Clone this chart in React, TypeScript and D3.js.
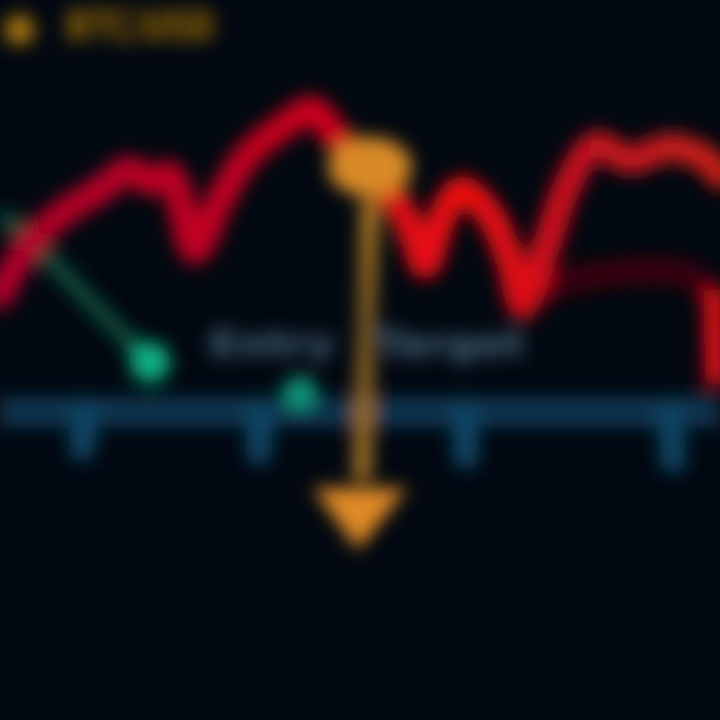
import React from "react";
import * as d3 from "d3";

// Data (x in time units 0..72, y in price units 0..72)
const redT = [0, 2.5, 6, 10, 13, 15, 17, 19.5, 22, 24.8, 28.5, 31.2, 33.5, 36.7, 39.5, 41.3, 42.5, 44.5, 46.2, 49, 51, 52.3, 54.5, 57, 59.6, 63, 67, 70.7, 72];
const redP = [42.5, 47, 50.5, 53, 55, 53.8, 54.5, 47, 52, 56.5, 59.5, 61, 58.5, 55, 52, 48.5, 45.5, 51, 53, 50.5, 46, 41.5, 47, 54, 57.5, 56, 57.3, 56, 54.5];
const darkT = [54.5, 59.6, 68.8, 71];
const darkP = [43, 44.5, 44.5, 43];
const tailT = [71.4, 71.6];
const tailP = [43, 33.5];
const greenT = [0, 2, 15];
const greenP = [50.5, 49, 35.8];
const dotT = [15, 30];
const dotP = [35.8, 32.7];
const tickT = [8.5, 26, 46.5, 67];
const labels = ["Entry", "Target"];
const labelT = [27.2, 45];
const labelW = [125, 150];
const titleText = ["●", "BTC/USD"];

const W = 720, H = 720;
const x = d3.scaleLinear().domain([0, 72]).range([0, W]);
const y = d3.scaleLinear().domain([0, 72]).range([H, 0]);

export default function App() {
  const mk = (T: number[], P: number[], curve: d3.CurveFactory = d3.curveCatmullRom) =>
    d3.line<[number, number]>().x(d => x(d[0])).y(d => y(d[1])).curve(curve)(T.map((t, i) => [t, P[i]] as [number, number]))!;
  const baseY = y(30.8);
  return (
    <svg width={W} height={H} style={{ position: "fixed", left: 0, top: 0, background: "#020811" }}>
      <defs>
        <filter id="blur" filterUnits="userSpaceOnUse" x={-100} y={-100} width={920} height={920}>
          <feGaussianBlur stdDeviation={9} />
        </filter>
        <linearGradient id="redg" gradientUnits="userSpaceOnUse" x1={0} x2={720} y1={0} y2={0}>
          <stop offset="0" stopColor="#b0002a" />
          <stop offset="0.4" stopColor="#c8001e" />
          <stop offset="0.65" stopColor="#f01010" />
          <stop offset="0.8" stopColor="#c81020" />
          <stop offset="1" stopColor="#c82018" />
        </linearGradient>
        <linearGradient id="shaft" gradientUnits="userSpaceOnUse" x1={0} x2={0} y1={170} y2={480}>
          <stop offset="0" stopColor="#d08a28" />
          <stop offset="0.5" stopColor="#7a5a20" />
          <stop offset="1" stopColor="#b07a28" />
        </linearGradient>
      </defs>
      <rect width={W} height={H} fill="#020811" />
      <g filter="url(#blur)">
        {/* baseline */}
        <line x1={0} x2={W} y1={baseY} y2={baseY} stroke="#0b3550" strokeWidth={30} />
        {tickT.map((t, i) => (
          <line key={i} x1={x(t)} x2={x(t) + (i - 1.5) * 2} y1={baseY} y2={baseY + 36 + i * 4} stroke="#0d4464" strokeWidth={26} strokeLinecap="round" />
        ))}
        {/* green */}
        <path d={mk(greenT, greenP, d3.curveLinear)} fill="none" stroke="#0a4a38" strokeWidth={18} />
        {dotT.map((t, i) => (
          <circle key={i} cx={x(t)} cy={y(dotP[i])} r={i === 0 ? 20 : 17} fill={i === 0 ? "#0fb085" : "#0a9478"} />
        ))}
        {/* red */}
        <path d={mk(darkT, darkP)} fill="none" stroke="#3a0010" strokeWidth={26} />
        <path d={mk(redT, redP)} fill="none" stroke="url(#redg)" strokeWidth={28} strokeLinejoin="round" strokeLinecap="round" />
        <path d={mk(tailT, tailP, d3.curveLinear)} fill="none" stroke="#e00818" strokeWidth={22} />
        {/* orange arrow */}
        <line x1={x(37)} x2={x(36.2)} y1={y(52)} y2={y(24)} stroke="url(#shaft)" strokeWidth={18} />
        <ellipse cx={x(37)} cy={y(55.3)} rx={42} ry={30} fill="#d88a28" />
        <path d={`M${x(31.3)},${y(23.2)} L${x(40.7)},${y(23.2)} L${x(35.8)},${y(17)} Z`} fill="#e08a25" />
        {/* labels */}
        {labels.map((l, i) => (
          <text key={i} x={x(labelT[i]) - labelW[i] / 2} y={y(36.4)} textLength={labelW[i]} lengthAdjust="spacingAndGlyphs" fontFamily="DejaVu Sans" fontWeight="bold" fontSize={36} fill="#4a6a80">{l}</text>
        ))}
        <text y={40} fontFamily="DejaVu Sans" fontWeight="bold" fontSize={40} fill="#a87410">
          <tspan x={2}>{titleText[0]}</tspan>
          <tspan x={66} textLength={148} lengthAdjust="spacingAndGlyphs">{titleText[1]}</tspan>
        </text>
      </g>
    </svg>
  );
}
